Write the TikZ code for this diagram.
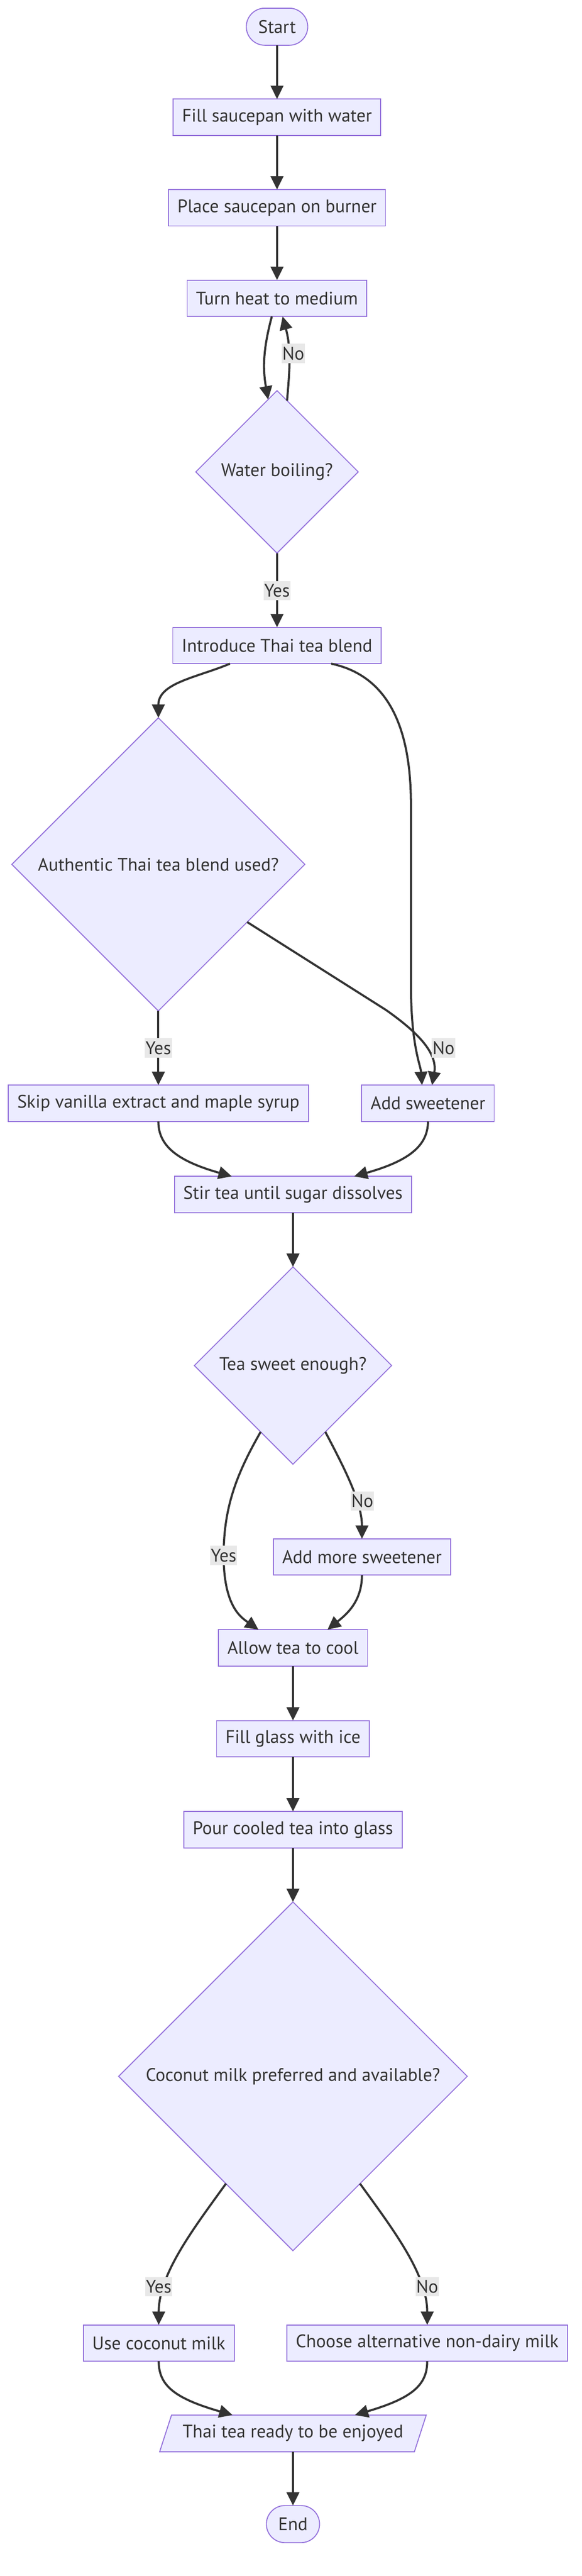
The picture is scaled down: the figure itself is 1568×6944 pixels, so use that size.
\documentclass[tikz,border=0pt]{standalone}
\usepackage{fontspec}
\setmainfont{PT Sans}
\usetikzlibrary{positioning,shapes.geometric,arrows.meta}
\definecolor{nodefill}{HTML}{ECECFF}
\definecolor{nodeline}{HTML}{9370DB}
\definecolor{ink}{HTML}{333333}
\definecolor{lblbg}{HTML}{E8E8E8}
\tikzset{
  base/.style={draw=nodeline, fill=nodefill, line width=1.3pt, outer sep=0pt, text=ink,
    font=\fontsize{24.5}{29}\selectfont},
  stepbox/.style={base, rectangle, minimum height=49pt, inner xsep=12pt},
  terminal/.style={base, rectangle, rounded corners=25pt, minimum height=50pt, inner xsep=16pt},
  decision/.style={base, diamond, aspect=1, inner sep=0pt},
  io/.style={base, trapezium, trapezium left angle=63, trapezium right angle=117,
    trapezium stretches=true, minimum width=360pt, minimum height=49.5pt},
  flow/.style={draw=ink, line width=2.8pt, -{Triangle[length=18pt,width=17pt]}},
  lbl/.style={fill=lblbg, text=ink, inner xsep=1pt, inner ysep=0pt, minimum height=26pt,
    font=\fontsize{24.5}{29}\selectfont},
}
\begin{document}
\begin{tikzpicture}[x=0.5pt, y=-0.5pt]
  \useasboundingbox (0,0) rectangle (1568,6944);
  \node[terminal] (start) at (747,72) {Start};
  \node[stepbox, below=72.5pt of start] (fillpan) {Fill saucepan with water};
  \node[stepbox, below=73pt of fillpan] (placepan) {Place saucepan on burner};
  \node[stepbox, below=73pt of placepan] (heat) {Turn heat to medium};
  \node[decision, minimum size=219pt, below=100pt of heat] (boil) {Water boiling?};
  \node[stepbox, below=100pt of boil] (blend) {Introduce Thai tea blend};
  \node[decision, minimum size=395pt, below=73pt of blend, xshift=-160pt] (authentic) {Authentic Thai tea blend used?};
  \node[stepbox, below=100pt of authentic] (skip) {Skip vanilla extract and maple syrup};
  \node[stepbox, below=100pt of authentic, xshift=363.5pt] (sweet) {Add sweetener};
  \node[stepbox, below=74pt of skip, xshift=181.5pt] (stir) {Stir tea until sugar dissolves};
  \node[decision, minimum size=266pt, below=73pt of stir] (enough) {Tea sweet enough?};
  \node[stepbox, below=100.5pt of enough, xshift=93pt] (more) {Add more sweetener};
  \node[stepbox, below=73.5pt of more, xshift=-93pt] (cool) {Allow tea to cool};
  \node[stepbox, below=73.5pt of cool] (ice) {Fill glass with ice};
  \node[stepbox, below=73.5pt of ice] (pour) {Pour cooled tea into glass};
  \node[decision, minimum size=470pt, below=73pt of pour] (coco) {Coconut milk preferred and available?};
  \node[stepbox, below=100pt of coco, xshift=-181pt] (usecoco) {Use coconut milk};
  \node[stepbox, below=100pt of coco, xshift=181pt] (altmilk) {Choose alternative non-dairy milk};
  \node[io, below=72.5pt of usecoco, xshift=181pt] (ready) {Thai tea ready to be enjoyed};
  \node[terminal, below=72.5pt of ready] (finish) {End};

  % boiling loop
  \draw[flow] (start) -- (fillpan);
  \draw[flow] (fillpan) -- (placepan);
  \draw[flow] (placepan) -- (heat);
  \draw[flow] ([xshift=-7pt]heat.south) to[out=-105, in=100] (boil.97);
  \draw[flow] (boil.82) to[out=85, in=-75] ([xshift=7.5pt]heat.south);
  \draw[flow] (boil) -- (blend);
  % blend and sweetener
  \draw[flow] ([xshift=-63.5pt]blend.south) to[out=-157, in=90] (authentic.north);
  \draw[flow] ([xshift=73pt]blend.south) .. controls (1040,1820) and (1108,1950) .. (1108,2168)
    -- (1108,2650) .. controls (1108,2820) and (1134,2870) .. ([xshift=-8pt]sweet.north);
  \draw[flow] (authentic.-33) -- (1040,2722) .. controls (1130,2785) and (1180,2840) .. ([xshift=5.5pt]sweet.north);
  \draw[flow] (authentic) -- (skip);
  \draw[flow] (skip.south) .. controls (427,3090) and (480,3130) .. ([xshift=-82.5pt]stir.north);
  \draw[flow] (sweet.south) .. controls (1154,3090) and (1100,3130) .. ([xshift=82.5pt]stir.north);
  \draw[flow] (stir) -- (enough);
  \draw[flow] (enough.-116) .. controls (640,3970) and (603,4060) .. (603,4193)
    .. controls (603,4330) and (650,4360) .. ([xshift=-46.5pt]cool.north);
  \draw[flow] (enough.-64) .. controls (930,3960) and (976,4050) .. (more.north);
  \draw[flow] (more.south) .. controls (976,4320) and (930,4355) .. ([xshift=46.5pt]cool.north);
  % serving
  \draw[flow] (cool) -- (ice);
  \draw[flow] (ice) -- (pour);
  \draw[flow] (pour) -- (coco);
  \draw[flow] (coco.-122) .. controls (520,6010) and (428,6130) .. (usecoco.north);
  \draw[flow] (coco.-58) .. controls (1060,6010) and (1152,6130) .. (altmilk.north);
  \draw[flow] (usecoco.south) .. controls (428,6430) and (470,6465) .. ([xshift=-81.5pt]ready.north);
  \draw[flow] (altmilk.south) .. controls (1152,6430) and (1110,6465) .. ([xshift=83.5pt]ready.north);
  \draw[flow] (ready) -- (finish);

  % edge labels
  \node[lbl] (lno1) at (791,953) {No};
  \node[lbl] (lyes1) at (747,1592) {Yes};
  \node[lbl] (lno2) at (1196,2825) {No};
  \node[lbl] (lyes2) at (427,2825) {Yes};
  \node[lbl] (lno3) at (977,4046) {No};
  \node[lbl] (lyes3) at (603,4193) {Yes};
  \node[lbl] (lyes4) at (428,6164) {Yes};
  \node[lbl] (lno4) at (1152,6164) {No};
\end{tikzpicture}
\end{document}
